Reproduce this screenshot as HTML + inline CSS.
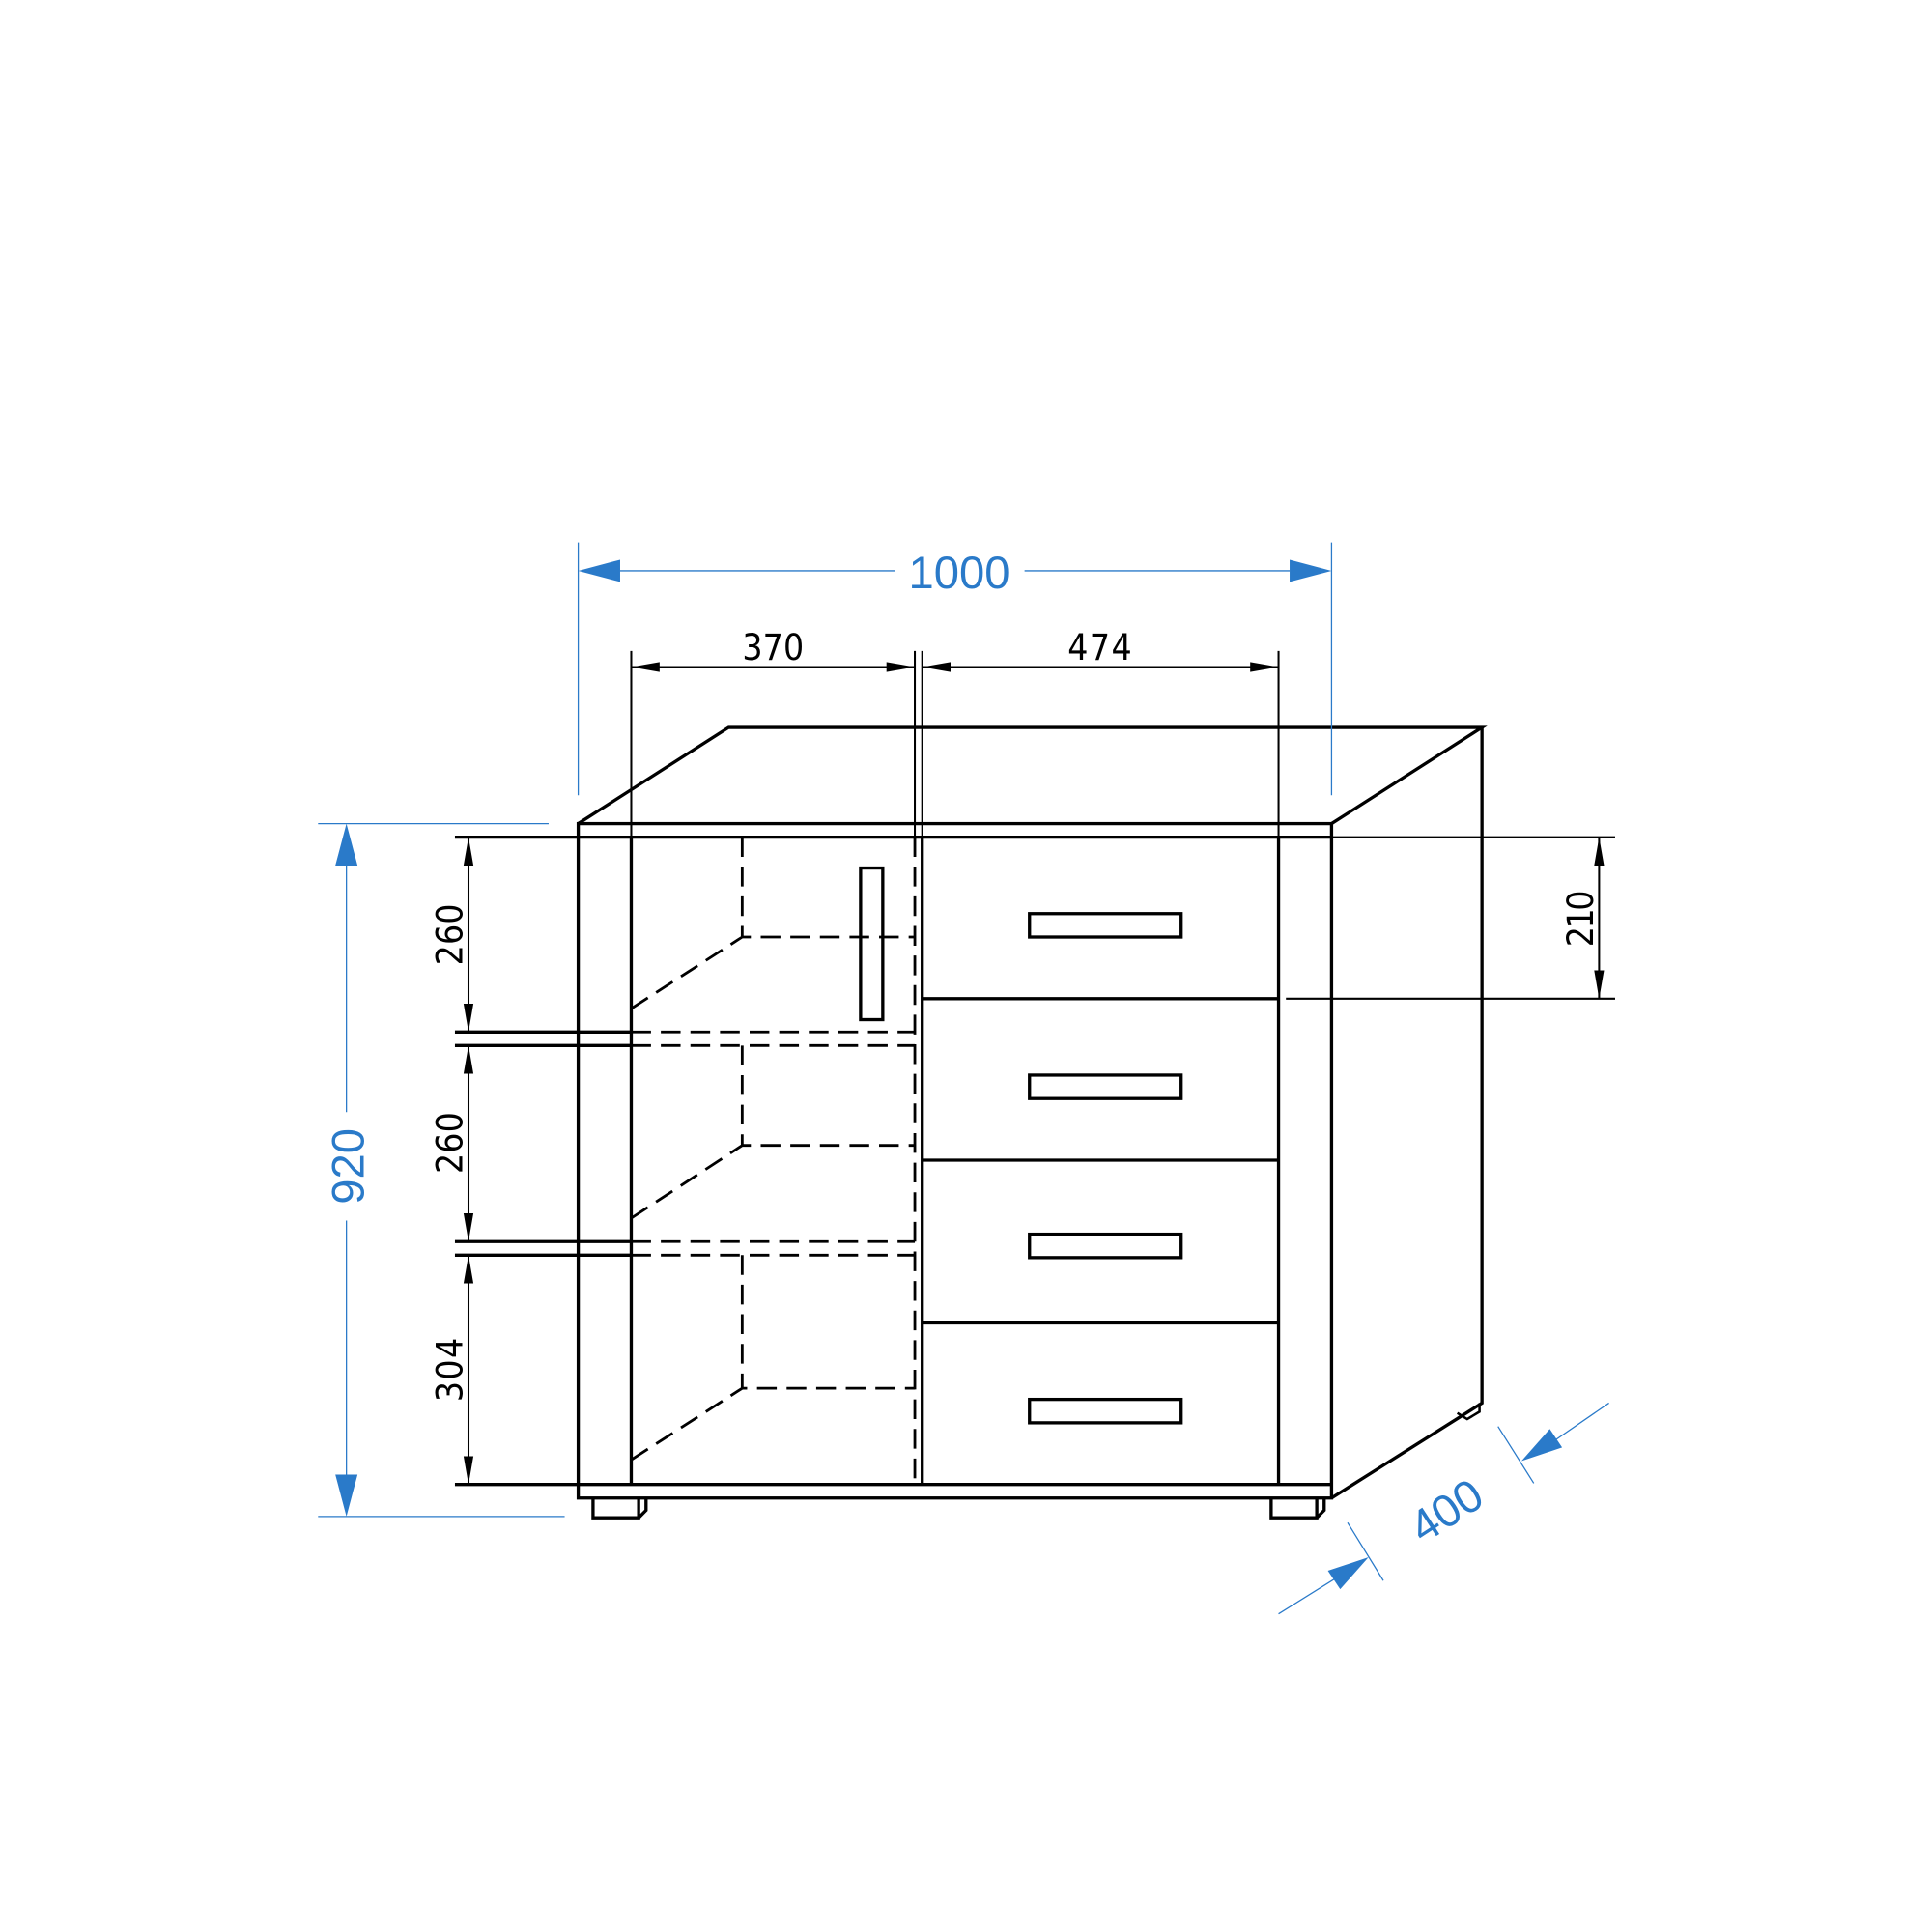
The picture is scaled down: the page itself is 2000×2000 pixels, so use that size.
<!DOCTYPE html>
<html><head><meta charset="utf-8"><style>html,body{margin:0;padding:0;background:#fff}svg{display:block}</style></head>
<body>
<svg width="2000" height="2000" viewBox="0 0 1567 1567" xmlns="http://www.w3.org/2000/svg">
<defs>
<marker id="ka" viewBox="0 0 23 10" refX="23" refY="5" markerWidth="23" markerHeight="10" markerUnits="userSpaceOnUse" orient="auto-start-reverse"><path d="M0,1 L23,5 L0,9 Z" fill="#000"/></marker>
</defs>
<g fill="none" stroke="#000" stroke-width="2.6" stroke-linejoin="miter">
<path d="M469,668 L591,590 L1202,590 L1080,668"/>
<rect x="469" y="668" width="611" height="547"/>
<path d="M1202,590 L1202,1138 L1080,1215"/>
<line x1="469" y1="679" x2="1080" y2="679"/>
<line x1="469" y1="1204" x2="1080" y2="1204"/>
<line x1="512" y1="679" x2="512" y2="1204"/>
<line x1="1037" y1="679" x2="1037" y2="1204"/>
<line x1="748" y1="679" x2="748" y2="1204"/>
<line x1="748" y1="810" x2="1037" y2="810"/>
<line x1="748" y1="941" x2="1037" y2="941"/>
<line x1="748" y1="1073" x2="1037" y2="1073"/>
<rect x="835" y="741" width="123" height="19"/>
<rect x="835" y="872" width="123" height="19"/>
<rect x="835" y="1001" width="123" height="19"/>
<rect x="835" y="1135" width="123" height="19"/>
<rect x="698" y="704" width="18" height="123"/>
<path d="M481,1215 V1231 H518 V1215 M518,1231 L524,1225 V1215"/>
<path d="M1031,1215 V1231 H1068 V1215 M1068,1231 L1074,1225 V1215"/>
<path d="M1182,1146 L1190,1151 L1200,1145 V1138" stroke-width="2"/>
<path d="M369,837 H512 M369,848 H512 M369,1007 H512 M369,1018 H512 M369,679 H469 M369,1204 H469"/>
</g>
<g fill="none" stroke="#000" stroke-width="2.2" stroke-dasharray="16,8">
<path d="M742,679 V1204"/>
<path d="M512,837 H742 M512,848 H742 M512,1007 H742 M512,1018 H742"/>
<path d="M602,679 V760 H742 M512,818 L602,760"/>
<path d="M602,848 V929 H742 M512,988 L602,929"/>
<path d="M602,1018 V1126 H742 M512,1184 L602,1126"/>
</g>
<g stroke="#000" stroke-width="1.6" fill="none">
<path d="M512,528 V679 M742,528 V679 M748,528 V679 M1037,528 V679"/>
<line x1="512" y1="541" x2="742" y2="541" marker-start="url(#ka)" marker-end="url(#ka)"/>
<line x1="748" y1="541" x2="1037" y2="541" marker-start="url(#ka)" marker-end="url(#ka)"/>
<line x1="380" y1="679" x2="380" y2="837" marker-start="url(#ka)" marker-end="url(#ka)"/>
<line x1="380" y1="848" x2="380" y2="1007" marker-start="url(#ka)" marker-end="url(#ka)"/>
<line x1="380" y1="1018" x2="380" y2="1204" marker-start="url(#ka)" marker-end="url(#ka)"/>
<path d="M1080,679 H1310 M1043,810 H1310"/>
<line x1="1297" y1="679" x2="1297" y2="810" marker-start="url(#ka)" marker-end="url(#ka)"/>
</g>
<g font-family="'DejaVu Sans Condensed','Liberation Sans Narrow','Liberation Sans',sans-serif" font-size="29" fill="#000" text-anchor="middle" font-weight="300">
<text x="627" y="535" textLength="50">370</text>
<text x="892" y="535" textLength="52">474</text>
<text transform="translate(375,758) rotate(-90)" textLength="50">260</text>
<text transform="translate(375,927) rotate(-90)" textLength="50">260</text>
<text transform="translate(375,1111) rotate(-90)" textLength="52">304</text>
<text transform="translate(1292,745) rotate(-90)" textLength="46">210</text>
</g>
<g stroke="#2a7ac9" stroke-width="1" fill="none">
<path d="M469,440 V645 M1080,440 V645"/>
<path d="M503,463 H726 M831,463 H1046"/>
<path d="M258,668 H445 M258,1230 H458"/>
<path d="M281,702 V902 M281,990 V1196"/>
<path d="M1093,1235 L1122,1282 M1215,1157 L1244,1203"/>
<path d="M1037,1309 L1085,1279 M1260,1169 L1305,1138"/>
</g>
<g fill="#2a7ac9">
<path d="M469,463 L503,454 L503,472 Z"/>
<path d="M1080,463 L1046,454 L1046,472 Z"/>
<path d="M281,668 L272,702 L290,702 Z"/>
<path d="M281,1230 L272,1196 L290,1196 Z"/>
<path d="M1110,1263 L1077,1274 L1087,1289 Z"/>
<path d="M1234,1185 L1257,1159 L1267,1174 Z"/>
</g>
<g font-family="'Liberation Sans',sans-serif" font-size="37" fill="#2a7ac9" text-anchor="middle">
<text x="778" y="477">1000</text>
<text transform="translate(295,946) rotate(-90)">920</text>
<text transform="translate(1180,1236) rotate(-33)">400</text>
</g>
</svg>
</body></html>
